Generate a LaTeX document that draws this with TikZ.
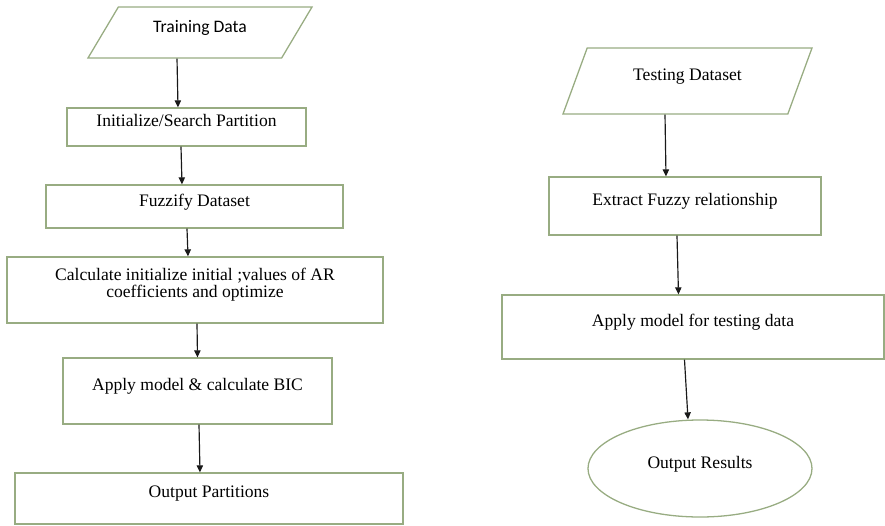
\documentclass[tikz,border=0pt]{standalone}
\usepackage{fontspec}
\setmainfont{Liberation Serif}
\newfontfamily\calibri{Carlito}
\usetikzlibrary{arrows.meta,positioning,shapes.geometric}
\definecolor{boxline}{RGB}{152,172,130}

\begin{document}
\begin{tikzpicture}[x=0.03cm, y=-0.03cm, every node/.style={font=\fontsize{15}{14.5}\selectfont},
  box/.style={draw=boxline, line width=1.1pt, text depth=0.38cm, align=center},
  datain/.style={box, trapezium, trapezium stretches body, trapezium left angle=#1, trapezium right angle=180-#1},
  arr/.style={-{Triangle[length=0.21cm,width=0.19cm]}, line width=1pt, black!90}]
\useasboundingbox (0,0) rectangle (885,525);
% training side
\node[datain=47, minimum width=6.72cm, minimum height=1.53cm, font=\calibri\fontsize{15}{17}\selectfont] (train) at (200,32.5) {Training Data};
\node[box, minimum width=7.17cm, minimum height=1.14cm] (init) at (186.5,127) {Initialize/Search Partition};
\node[box, minimum width=8.91cm, minimum height=1.29cm] (fuzz) at (194.5,206.5) {Fuzzify Dataset};
\node[box, minimum width=11.28cm, minimum height=1.98cm, text depth=0.45cm] (calc) at (195,290) {Calculate initialize initial ;values of AR\\coefficients and optimize};
\node[box, minimum width=8.07cm, minimum height=1.98cm] (bic) at (197.5,391) {Apply model \& calculate BIC};
\node[box, minimum width=11.64cm, minimum height=1.53cm] (outp) at (209,498.5) {Output Partitions};
% testing side
\node[datain=53, minimum width=7.47cm, minimum height=1.98cm] (test) at (687.5,81) {Testing Dataset};
\node[box, minimum width=8.16cm, minimum height=1.74cm] (extract) at (685,206) {Extract Fuzzy relationship};
\node[box, minimum width=11.46cm, minimum height=1.92cm] (apply) at (693,327) {Apply model for testing data};
\node[box, ellipse, minimum width=6.72cm, minimum height=2.91cm] (results) at (700,468.5) {Output Results};
\foreach \a/\sa/\b/\sb in {train/-0.69/init/-0.255, init/-0.165/fuzz/-0.375, fuzz/-0.225/calc/-0.21,
  calc/0.06/bic/0, bic/0.045/outp/-0.27, test/-0.675/extract/-0.57, extract/-0.24/apply/-0.435, apply/-0.255/results/-0.36}
  \draw[arr] ([xshift=\sa cm]\a.south) -- ([xshift=\sb cm]\b.north);
\end{tikzpicture}
\end{document}
